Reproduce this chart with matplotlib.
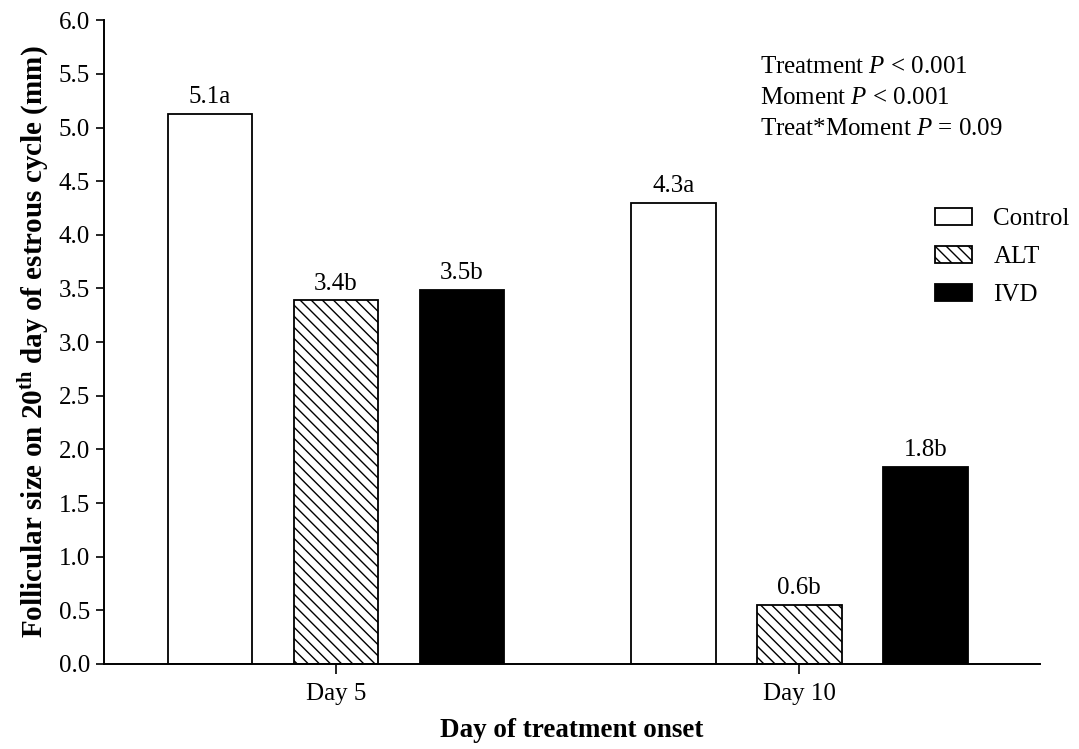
import numpy as np
import matplotlib
matplotlib.use("Agg")
import matplotlib.pyplot as plt

plt.rcParams['font.family'] = ['Liberation Serif', 'DejaVu Serif']
plt.rcParams['mathtext.fontset'] = 'custom'
plt.rcParams['mathtext.rm'] = 'Liberation Serif'
plt.rcParams['mathtext.it'] = 'Liberation Serif:italic'
plt.rcParams['mathtext.bf'] = 'Liberation Serif:bold'
plt.rcParams['hatch.linewidth'] = 1.0

# Follicular size (mm) by day of treatment onset
days = ['Day 5', 'Day 10']
treatments = ['Control', 'ALT', 'IVD']
control = [5.13, 4.30]
alt = [3.39, 0.55]
ivd = [3.49, 1.84]
letters = [['a', 'a'], ['b', 'b'], ['b', 'b']]

stats_lines = [r'Treatment $P$ < 0.001',
               r'Moment $P$ < 0.001',
               r'Treat*Moment $P$ = 0.09']

fig = plt.figure(figsize=(10.79, 7.49), dpi=100)
ax = fig.add_axes([0.0964, 0.1135, 0.8676, 0.8595])

x = np.arange(len(days))
width = 0.1825
offset = 0.272
styles = [dict(facecolor='white', hatch=None),
          dict(facecolor='white', hatch='\\\\\\'),
          dict(facecolor='black', hatch=None)]

for i, (name, vals) in enumerate(zip(treatments, [control, alt, ivd])):
    pos = x + (i - 1) * offset
    bars = ax.bar(pos, vals, width=width, edgecolor='black', linewidth=1.3,
                  label=name, **styles[i])
    for b, v, let in zip(bars, vals, letters[i]):
        ax.annotate(f'{v:.1f}{let}', (b.get_x() + b.get_width() / 2, v),
                    xytext=(0, 4), textcoords='offset points',
                    ha='center', va='bottom', fontsize=18)

ax.set_xlim(-0.501, 1.52)
ax.set_ylim(0, 6.0)
ax.set_yticks(np.arange(0, 6.01, 0.5))
ax.set_yticklabels([f'{t:.1f}' for t in np.arange(0, 6.01, 0.5)])
ax.set_xticks(x)
ax.set_xticklabels(days)

for s in ['top', 'right']:
    ax.spines[s].set_visible(False)
for s in ['left', 'bottom']:
    ax.spines[s].set_linewidth(1.4)
ax.tick_params(axis='both', direction='out', width=1.2, labelsize=18, colors='black')
ax.tick_params(axis='y', length=6, pad=4)
ax.tick_params(axis='x', length=7, pad=7)

ax.set_ylabel(r'Follicular size on 20$^{\mathbf{th}}$ day of estrous cycle (mm)',
              fontsize=21, fontweight='bold', labelpad=6)
ax.set_xlabel('Day of treatment onset', fontsize=19.5, fontweight='bold', labelpad=9)

for k, line in enumerate(stats_lines):
    fig.text(760 / 1079, 1 - (67 + 31 * k) / 749, line, fontsize=18,
             ha='left', va='center')

ax.legend(loc='center left', bbox_to_anchor=(0.888, 0.632), frameon=False,
          fontsize=18, handlelength=1.48, handleheight=0.64, handletextpad=0.84,
          labelspacing=0.64, borderpad=0, borderaxespad=0)

fig.savefig('out.png', dpi=100)
